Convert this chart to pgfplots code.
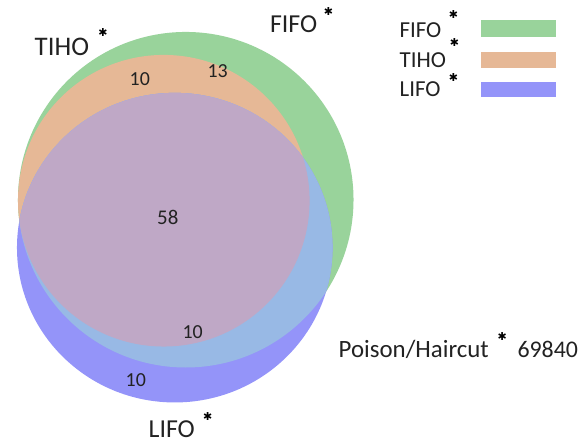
\documentclass[border=0pt]{standalone}
\usepackage{pgfplots}
\pgfplotsset{compat=1.18}
\usepackage{fontspec}
\setmainfont{Carlito}
\newfontfamily\symfont{DejaVu Sans}
\definecolor{cgreen}{HTML}{99D39B}
\definecolor{corange}{HTML}{E6B896}
\definecolor{cblue}{HTML}{9494F9}
\definecolor{clblue}{HTML}{98B9E5}
\definecolor{cmauve}{HTML}{BFA8C6}
\definecolor{ctext}{HTML}{222222}
\newcommand{\fs}[1]{\fontsize{#1}{#1}\selectfont}
\newcommand{\st}{{\symfont\fs{11}✱}}
\begin{document}
\begin{tikzpicture}
\begin{axis}[
  width=578bp, height=446bp, scale only axis,
  xmin=0, xmax=578, ymin=0, ymax=446, y dir=reverse,
  hide axis, clip=false, enlargelimits=false,
]
\path (axis cs:0,0) rectangle (axis cs:578,446);
% FIFO (green), TIHO (orange), LIFO (blue): centre x, centre y, radii
\fill[cgreen]  (axis cs:186,200) circle[radius=168bp];
\fill[corange] (axis cs:164,201) circle[radius=146bp];
\fill[cblue]   (axis cs:175,248) ellipse[x radius=158bp, y radius=155bp];
\begin{scope}
  \clip (axis cs:175,248) ellipse[x radius=158bp, y radius=155bp];
  \fill[clblue] (axis cs:186,200) circle[radius=168bp];
  \fill[cmauve] (axis cs:164,201) circle[radius=146bp];
\end{scope}
% region counts
\node[text=ctext, font=\fs{20}] at (axis cs:140,79) {10};
\node[text=ctext, font=\fs{20}] at (axis cs:218,71) {13};
\node[text=ctext, font=\fs{21}] at (axis cs:168,218) {58};
\node[text=ctext, font=\fs{20}] at (axis cs:193,333) {10};
\node[text=ctext, font=\fs{20}] at (axis cs:136,381) {10};
% set labels
\node[text=ctext, font=\fs{27}] at (axis cs:62,47) {TIHO};
\node[inner sep=0] at (axis cs:103,33) {\st};
\node[text=ctext, font=\fs{26}] at (axis cs:294,24) {FIFO};
\node[inner sep=0] at (axis cs:329,12) {\st};
\node[text=ctext, font=\fs{26}, inner sep=0] at (axis cs:172,430) {LIFO};
\node[inner sep=0] at (axis cs:208,417) {\st};
% legend
\fill[cgreen]  (axis cs:482,20) rectangle (axis cs:557,37);
\fill[corange] (axis cs:482,52) rectangle (axis cs:557,68);
\fill[cblue]   (axis cs:482,82) rectangle (axis cs:557,97);
\node[text=ctext, font=\fs{23}, anchor=west, inner sep=0] at (axis cs:400,30) {FIFO};
\node[text=ctext, font=\fs{23}, anchor=west, inner sep=0] at (axis cs:400,60) {TIHO};
\node[text=ctext, font=\fs{23}, anchor=west, inner sep=0] at (axis cs:400,89) {LIFO};
\node[inner sep=0] at (axis cs:454,15) {\st};
\node[inner sep=0] at (axis cs:455,43) {\st};
\node[inner sep=0] at (axis cs:454,78) {\st};
% poison/haircut
\node[text=ctext, font=\fs{25}, anchor=west, inner sep=0] at (axis cs:339,350) {Poison/Haircut};
\node[inner sep=0] at (axis cs:503,337) {\st};
\node[text=ctext, font=\fs{24}, anchor=west, inner sep=0] at (axis cs:518,350) {69840};
\end{axis}
\end{tikzpicture}
\end{document}
